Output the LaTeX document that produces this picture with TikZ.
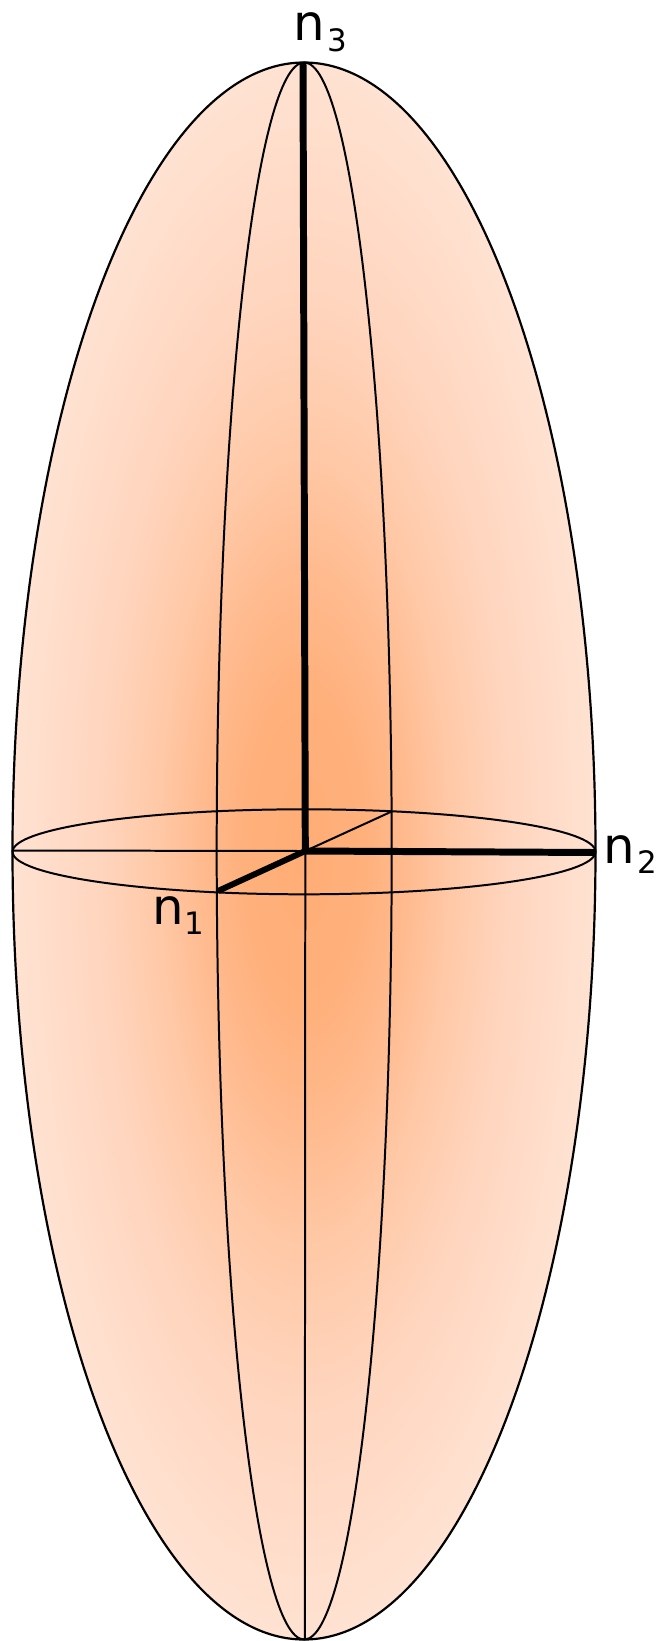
\documentclass[tikz,border=0pt]{standalone}
\usepackage{fontspec}
\setmainfont{DejaVu Sans}
\definecolor{cCore}{HTML}{FFAD76}
\definecolor{cInner}{HTML}{FFB07B}
\definecolor{cMid}{HTML}{FFBA8E}
\definecolor{cHalf}{HTML}{FFC8A6}
\definecolor{cOut}{HTML}{FFD5BE}
\definecolor{cEdge}{HTML}{FFE2D2}
\pgfdeclareradialshading{bodyglow}{\pgfpoint{0bp}{0bp}}{
  color(0bp)=(cCore); color(5bp)=(cInner); color(8.75bp)=(cMid);
  color(12.5bp)=(cHalf); color(17.5bp)=(cOut); color(25bp)=(cEdge); color(100bp)=(cEdge)}
\tikzset{
  outline/.style={draw=black,line width=2.2pt},
  thinline/.style={draw=black,line width=2pt},
  axis/.style={draw=black,line width=7pt},
  lab/.style={anchor=base west,inner sep=0pt,outer sep=0pt,font=\fontsize{50}{50}\selectfont},
  sublab/.style={anchor=base west,inner sep=0pt,outer sep=0pt,font=\fontsize{31}{31}\selectfont}
}
\begin{document}
\begin{tikzpicture}[x=1bp,y=-1bp]
\useasboundingbox (0,0) rectangle (657,1641);
\coordinate (c) at (305.3,851);
\coordinate (top) at (303,62);
\coordinate (bot) at (304.8,1639);
\coordinate (left) at (12.5,850.5);
\coordinate (right) at (596,852.5);
\coordinate (front) at (218,891);
\coordinate (back) at (391.7,811.5);
\path[shading=bodyglow] (304,851) ellipse [x radius=291.5,y radius=788];
\draw[outline] (304,851) ellipse [x radius=291.5,y radius=788.5];
\draw[thinline] (304.2,851) ellipse [x radius=87.5,y radius=788.5];
\draw[thinline] (304,851.8) ellipse [x radius=291.5,y radius=42.5];
\draw[thinline] (left) -- (c);
\draw[thinline] (c) -- (back);
\draw[thinline] (c) -- (bot);
\draw[axis] (top) -- (c);
\draw[axis] (c) -- (right);
\draw[axis,line width=6pt] (c) -- (front);
\node[lab] (n3) at (293,40.7) {n};
\node[sublab] (s3) at (327,51.7) {3};
\node[lab] (n2) at (603.5,863) {n};
\node[sublab] (s2) at (637,873.5) {2};
\node[lab] (n1) at (152.5,924) {n};
\node[sublab] (s1) at (184.5,934.5) {1};
\end{tikzpicture}
\end{document}
